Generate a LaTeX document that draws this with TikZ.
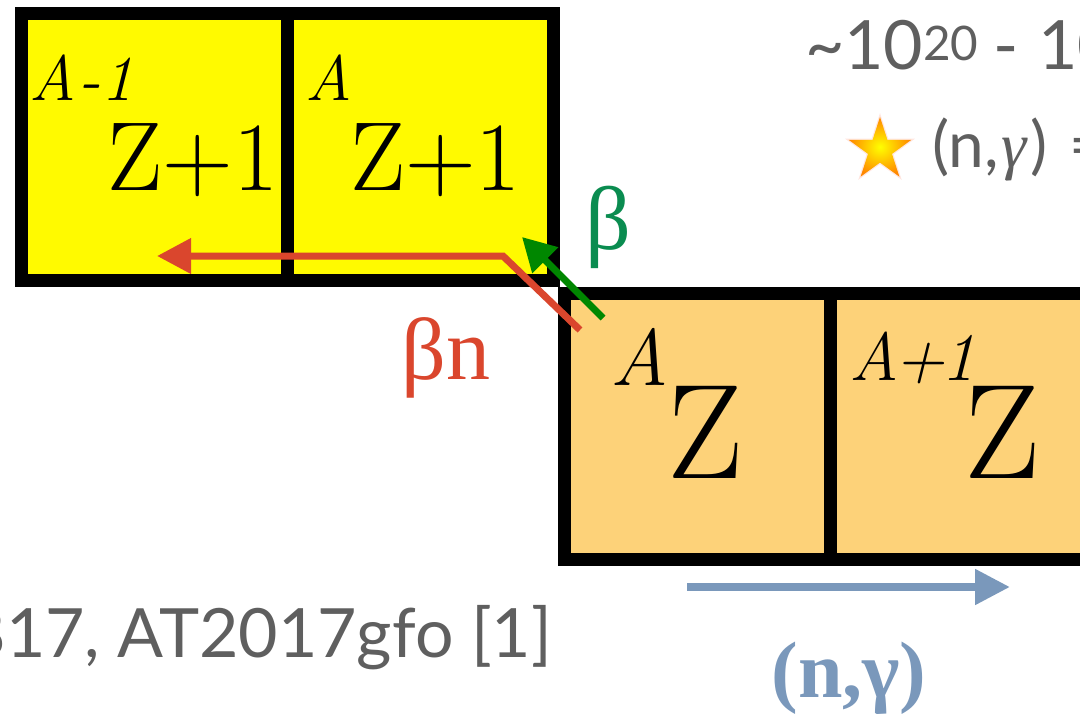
\documentclass[tikz,border=0pt]{standalone}
\usepackage{fontspec}
\newfontfamily\grk{Liberation Serif}
\newfontfamily\lato{Lato}
\usetikzlibrary{arrows.meta,shapes.geometric}
\definecolor{cellyellow}{RGB}{255,250,0}
\definecolor{cellorange}{RGB}{253,210,121}
\definecolor{redarr}{RGB}{218,70,45}
\definecolor{greenarr}{RGB}{0,135,0}
\definecolor{betagreen}{RGB}{10,140,80}
\definecolor{bluearr}{RGB}{122,152,187}
\definecolor{txtgray}{RGB}{95,95,95}
\definecolor{starorange}{RGB}{255,135,0}
\newcommand\fsz[1]{\fontsize{#1}{#1}\selectfont}
\begin{document}
\begin{tikzpicture}[x=1pt,y=-1pt,
  cell/.style={draw=black, line width=13pt, minimum width=266pt, minimum height=266pt,
    inner sep=0pt, outer sep=0pt, anchor=north west},
  ycell/.style={cell, fill=cellyellow},
  ocell/.style={cell, fill=cellorange},
  lbl/.style={inner sep=0pt, outer sep=0pt, anchor=base west},
  arr/.style={line width=7pt}]
\useasboundingbox (0,0) rectangle (1080,717);
\clip (0,0) rectangle (1080,717);

% cells
\node[ycell] (y1) at (21,14) {};
\node[ycell] (y2) at (287,14) {};
\node[ocell] (o1) at (564,293) {};
\node[ocell] (o2) at (830,293) {};

% cell labels
\node[lbl, font=\fsz{64}\itshape] (ly1a) at (30,100) {A\kern2pt-\kern1pt1};
\node[lbl, anchor=base east, font=\fsz{98}] (ly1z) at (278,190) {Z+1};
\node[lbl, font=\fsz{64}\itshape] (ly2a) at (305,100) {A};
\node[lbl, font=\fsz{98}] (ly2z) at (350,190) {Z+1};
\node[lbl, font=\fsz{80}\itshape] (lo1a) at (610,385) {A};
\node[lbl, font=\fsz{135}] (lo1z) at (667,478) {Z};
\node[lbl, font=\fsz{68}\itshape] (lo2a) at (849,380) {A\kern-4pt+\kern-4pt1};
\node[lbl, font=\fsz{135}] (lo2z) at (964,478) {Z};

% arrows
\coordinate (rs) at (580,330);
\coordinate (rb) at (503,256);
\coordinate (re) at (157,256);
\draw[arr, redarr, -{Triangle[length=34pt,width=34pt]}] (rs) -- (rb) -- (re);
\coordinate (gs) at (603,318);
\coordinate (ge) at (522,237);
\draw[arr, greenarr, -{Triangle[length=33pt,width=35pt]}] (gs) -- (ge);
\coordinate (bs) at (687,587);
\coordinate (be) at (1010,587);
\draw[line width=8pt, bluearr, -{Triangle[length=35pt,width=34pt]}] (bs) -- (be);

% arrow labels
\node[inner sep=0pt, text=betagreen, font=\grk\fsz{90}] (lbeta) at (608,227) {β};
\node[inner sep=0pt, text=redarr, font=\grk\fsz{88}] (lbn) at (446,358) {βn};
\node[inner sep=0pt, anchor=base, text=bluearr, font=\grk\bfseries\fsz{80}] (lng) at (849,697) {(n,γ)};

% gray texts
\node[lbl, text=txtgray, font=\lato\fsz{68}] (trate) at (805,70) {\textasciitilde10\textsuperscript{20}\kern14pt-\kern20pt10};
\node[star, star points=5, star point ratio=2.618, minimum size=74pt, inner sep=0pt,
  fill=red!60!orange, opacity=0.12] (glow) at (880,150) {};
\node[star, star points=5, star point ratio=2.618, minimum size=66pt, inner sep=0pt,
  inner color=yellow, outer color=starorange] (star) at (880,150) {};
\node[lbl, text=txtgray, font=\lato\fsz{64}] (tng) at (932,167) {(n,\kern3pt{\grk\itshape γ}\kern3pt)\kern22pt=};
\node[lbl, anchor=base east, text=txtgray, font=\lato\fsz{68}] (tgw) at (552,657) {817, AT2017gfo [1]};
\end{tikzpicture}
\end{document}
